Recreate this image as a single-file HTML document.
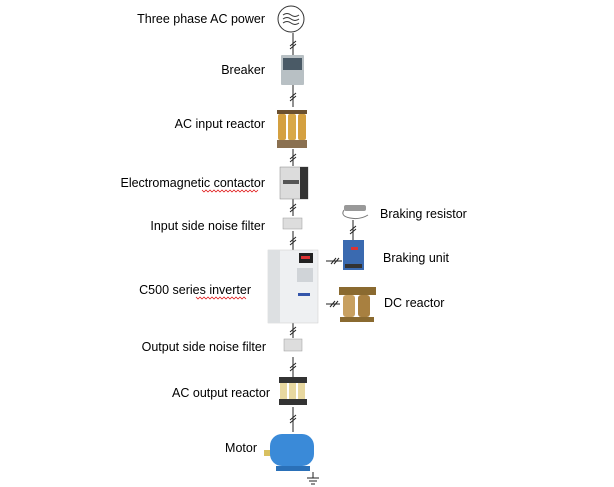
<!DOCTYPE html>
<html><head><meta charset="utf-8"><style>
html,body{margin:0;padding:0;background:#fff;width:614px;height:487px;overflow:hidden}
svg{display:block}
text{font-family:"Liberation Sans",sans-serif;font-size:12.5px;fill:#000}
</style></head><body>
<svg width="614" height="487" viewBox="0 0 614 487">
<g stroke="#222" stroke-width="1" fill="none">
<line x1="293" y1="33" x2="293" y2="55"/><line x1="290" y1="46" x2="296" y2="41"/><line x1="290" y1="49" x2="296" y2="44"/>
<line x1="293" y1="85" x2="293" y2="107"/><line x1="290" y1="98" x2="296" y2="93"/><line x1="290" y1="101" x2="296" y2="96"/>
<line x1="293" y1="149" x2="293" y2="166"/><line x1="290" y1="159" x2="296" y2="154"/><line x1="290" y1="162" x2="296" y2="157"/>
<line x1="293" y1="199" x2="293" y2="216"/><line x1="290" y1="209" x2="296" y2="204"/><line x1="290" y1="212" x2="296" y2="207"/>
<line x1="293" y1="231" x2="293" y2="250"/><line x1="290" y1="242" x2="296" y2="237"/><line x1="290" y1="245" x2="296" y2="240"/>
<line x1="293" y1="323" x2="293" y2="338"/><line x1="290" y1="332" x2="296" y2="327"/><line x1="290" y1="335" x2="296" y2="330"/>
<line x1="293" y1="357" x2="293" y2="377"/><line x1="290" y1="368" x2="296" y2="363"/><line x1="290" y1="371" x2="296" y2="366"/>
<line x1="293" y1="407" x2="293" y2="432"/><line x1="290" y1="420" x2="296" y2="415"/><line x1="290" y1="423" x2="296" y2="418"/>
<line x1="353" y1="220" x2="353" y2="240"/><line x1="350" y1="231" x2="356" y2="226"/><line x1="350" y1="234" x2="356" y2="229"/>
<line x1="326" y1="261" x2="342" y2="261"/><line x1="331" y1="264" x2="336" y2="258"/><line x1="334" y1="264" x2="339" y2="258"/>
<line x1="326" y1="304" x2="340" y2="304"/><line x1="330" y1="307" x2="335" y2="301"/><line x1="333" y1="307" x2="338" y2="301"/>
<line x1="313" y1="472" x2="313" y2="478"/><line x1="307" y1="478" x2="319" y2="478"/><line x1="309" y1="481" x2="317" y2="481"/><line x1="311" y1="484" x2="315" y2="484"/>
</g>
<circle cx="291" cy="19" r="13" fill="#fff" stroke="#333" stroke-width="1"/>
<path d="M283 15 q4 -3 8 0 t8 0 M283 19 q4 -3 8 0 t8 0 M283 23 q4 -3 8 0 t8 0" stroke="#333" fill="none"/>
<rect x="281" y="55" width="23" height="30" fill="#b8c0c4" rx="1"/><rect x="283" y="58" width="19" height="12" fill="#4a5a66"/>
<rect x="277" y="110" width="30" height="4" fill="#6a5030"/>
<rect x="278" y="114" width="8" height="26" fill="#d4a040" rx="2"/><rect x="288" y="114" width="8" height="26" fill="#d8a848" rx="2"/><rect x="298" y="114" width="8" height="26" fill="#d4a040" rx="2"/>
<rect x="277" y="140" width="30" height="8" fill="#8a7050"/>
<rect x="280" y="167" width="28" height="32" fill="#dcdcdc" stroke="#888" stroke-width="0.5"/><rect x="300" y="167" width="8" height="32" fill="#333"/><rect x="283" y="180" width="16" height="4" fill="#555"/>
<rect x="283" y="218" width="19" height="11" fill="#ddd" stroke="#999" stroke-width="0.5"/>
<rect x="268" y="250" width="50" height="73" fill="#eef0f2" stroke="#ccc" stroke-width="0.5"/>
<rect x="268" y="250" width="12" height="73" fill="#dde0e2"/>
<rect x="299" y="253" width="14" height="10" fill="#222"/><rect x="301" y="256" width="9" height="3" fill="#d33"/>
<rect x="297" y="268" width="16" height="14" fill="#d0d4d8"/><rect x="298" y="293" width="12" height="3" fill="#35a"/>
<rect x="284" y="339" width="18" height="12" fill="#ddd" stroke="#999" stroke-width="0.5"/>
<rect x="279" y="377" width="28" height="6" fill="#333"/>
<rect x="280" y="383" width="7" height="16" fill="#e8d8a0"/><rect x="289" y="383" width="7" height="16" fill="#e8d8a0"/><rect x="298" y="383" width="7" height="16" fill="#e8d8a0"/>
<rect x="279" y="399" width="28" height="6" fill="#333"/>
<rect x="264" y="450" width="8" height="6" fill="#d8c060"/>
<rect x="270" y="434" width="44" height="32" rx="12" fill="#3a8ad8"/><rect x="276" y="466" width="34" height="5" fill="#2a70b8"/>
<rect x="344" y="205" width="22" height="6" fill="#999" rx="2"/><path d="M344 210 q-4 6 6 8 q10 2 18 -3" stroke="#777" fill="none"/>
<rect x="343" y="240" width="21" height="30" fill="#3a6ab0"/><rect x="351" y="247" width="7" height="3" fill="#d33"/><rect x="345" y="264" width="17" height="4" fill="#333"/>
<rect x="339" y="287" width="37" height="8" fill="#8a6a30"/><rect x="343" y="295" width="12" height="22" fill="#c8a060" rx="3"/><rect x="358" y="295" width="12" height="22" fill="#a88040" rx="3"/><rect x="340" y="317" width="34" height="5" fill="#8a6a30"/>
<g text-anchor="end">
<text x="265" y="23">Three phase AC power</text>
<text x="265" y="74">Breaker</text>
<text x="265" y="128">AC input reactor</text>
<text x="265" y="187">Electromagnetic contactor</text>
<text x="265" y="230">Input side noise filter</text>
<text x="251" y="294">C500 series inverter</text>
<text x="266" y="351">Output side noise filter</text>
<text x="270" y="397">AC output reactor</text>
<text x="257" y="452">Motor</text>
</g>
<text x="380" y="218">Braking resistor</text>
<text x="383" y="262">Braking unit</text>
<text x="384" y="307">DC reactor</text>
<path d="M202 190 l2 2 2 -2 2 2 2 -2 2 2 2 -2 2 2 2 -2 2 2 2 -2 2 2 2 -2 2 2 2 -2 2 2 2 -2 2 2 2 -2 2 2 2 -2 2 2 2 -2 2 2 2 -2 2 2 2 -2 2 2 2 -2" stroke="#d00" stroke-width="0.7" fill="none"/>
<path d="M196 297 l2 2 2 -2 2 2 2 -2 2 2 2 -2 2 2 2 -2 2 2 2 -2 2 2 2 -2 2 2 2 -2 2 2 2 -2 2 2 2 -2 2 2 2 -2 2 2 2 -2 2 2 2 -2 2 2" stroke="#d00" stroke-width="0.7" fill="none"/>
</svg>
</body></html>
